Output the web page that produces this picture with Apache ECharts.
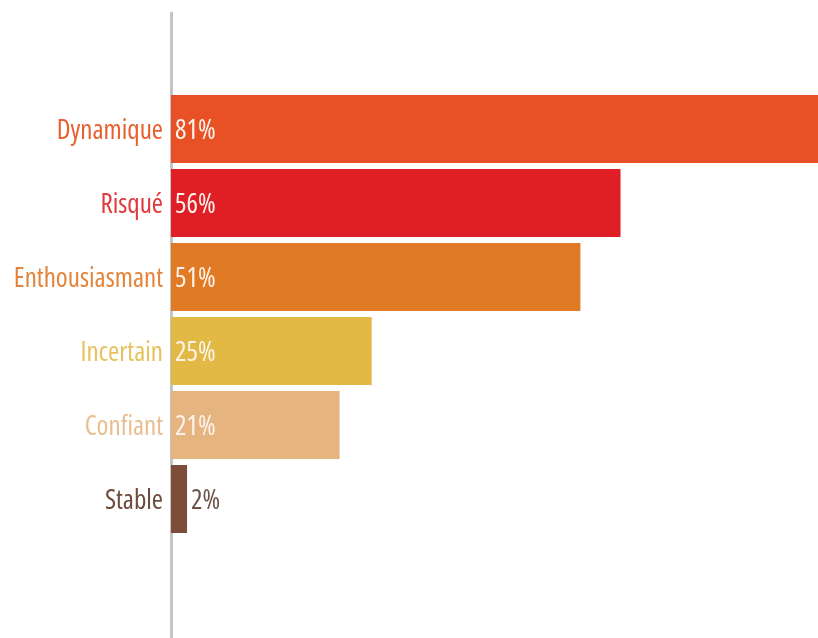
<!DOCTYPE html>
<html>
<head>
<meta charset="utf-8">
<script src="https://cdn.jsdelivr.net/npm/echarts@6/dist/echarts.min.js"></script>
<style>
html,body{margin:0;padding:0;background:#fff;}
#c{width:818px;height:638px;}
</style>
</head>
<body>
<div id="c"></div>
<script>
const categories = ['Dynamique', 'Risqué', 'Enthousiasmant', 'Incertain', 'Confiant', 'Stable'];
const values = [81, 56, 51, 25, 21, 2];
const barColors = ['#E85125', '#E01E26', '#E07A24', '#E3B945', '#E5B47F', '#7D4D3A'];
const labelColors = ['#E8602F', '#E2383A', '#E3843A', '#E6C15C', '#E8BE8E', '#6E4A3C'];

const FONT = '"Open Sans", "Roboto Condensed", sans-serif';
const WEIGHT = 'condensed';
const FSIZE = 27;

const chart = echarts.init(document.getElementById('c'), null, {renderer: 'canvas'});

const data = values.map((v, i) => {
  const item = { value: v, itemStyle: { color: barColors[i] } };
  if (v < 5) {
    item.label = { position: 'right', color: '#6B5048', distance: 4 };
  }
  return item;
});

chart.setOption({
  animation: false,
  backgroundColor: '#ffffff',
  grid: [
    { left: 171, right: 0, top: 92, bottom: 102 },
    { left: 171, right: 0, top: 13, bottom: 0 }
  ],
  xAxis: [
    { gridIndex: 0, type: 'value', min: 0, max: 80.6, show: false },
    { gridIndex: 1, type: 'value', min: 0, max: 1, show: false }
  ],
  yAxis: [
    {
      gridIndex: 0,
      type: 'category',
      data: categories,
      inverse: true,
      axisLine: { show: false },
      axisTick: { show: false },
      axisLabel: {
        margin: 8,
        interval: 0,
        verticalAlign: 'top',
        lineHeight: 5,
        fontFamily: FONT,
        fontWeight: WEIGHT,
        fontSize: FSIZE,
        color: function (value, index) { return labelColors[index]; }
      }
    },
    {
      gridIndex: 1,
      type: 'value',
      min: 0, max: 1,
      axisLine: { show: true, lineStyle: { color: '#C4C4C4', width: 3 } },
      axisTick: { show: false },
      axisLabel: { show: false },
      splitLine: { show: false }
    }
  ],
  series: [
    {
      type: 'bar',
      xAxisIndex: 0,
      yAxisIndex: 0,
      data: data,
      barWidth: 68,
      z: 3,
      label: {
        show: true,
        position: 'insideLeft',
        distance: 4,
        offset: [0, 2.5],
        formatter: '{c}%',
        color: '#FDF3EC',
        fontFamily: FONT,
        fontWeight: WEIGHT,
        fontSize: FSIZE
      }
    }
  ]
});
</script>
</body>
</html>
